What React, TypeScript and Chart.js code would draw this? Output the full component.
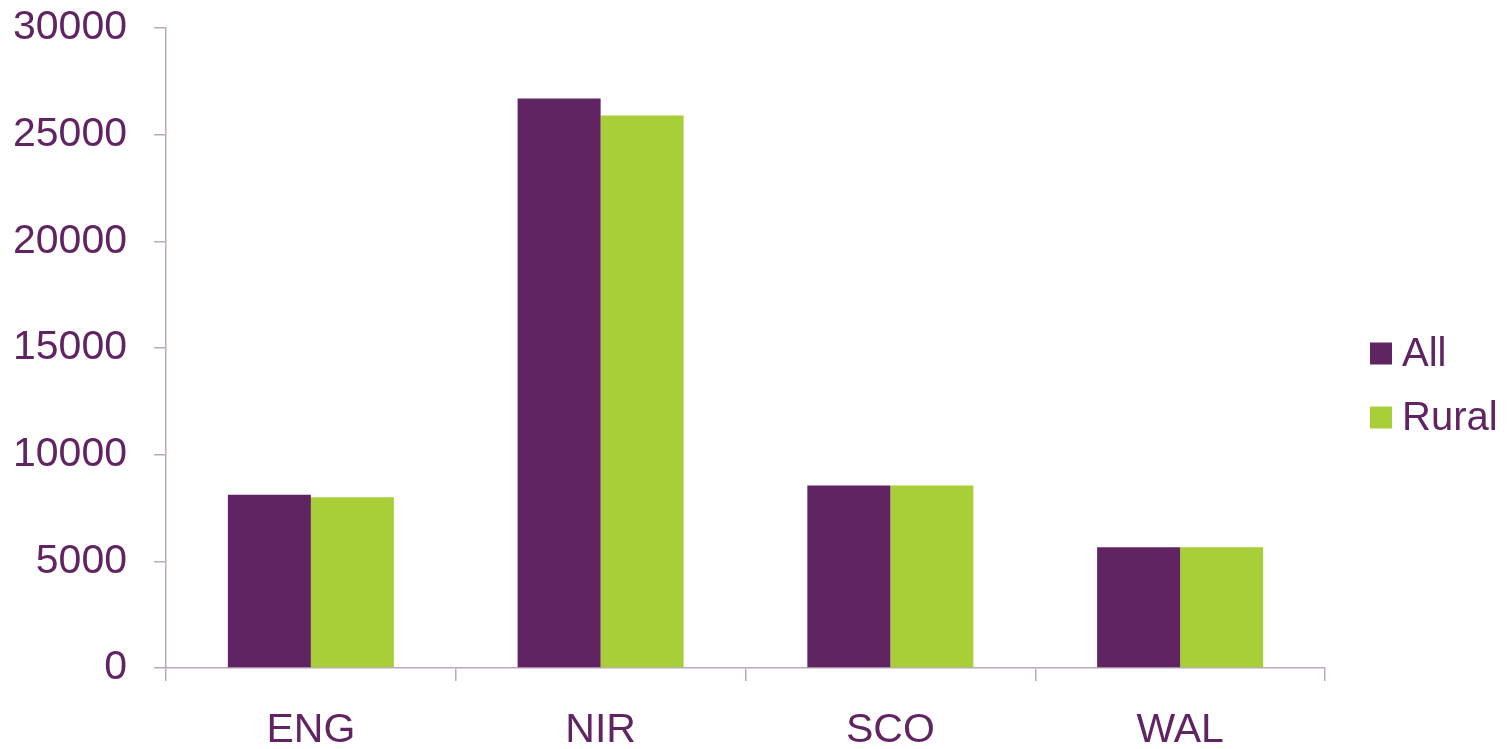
import React, { useEffect, useRef } from "react";
import { Chart, registerables } from "chart.js";

Chart.register(...registerables);

const regions = ["ENG", "NIR", "SCO", "WAL"];
const allValues = [8120, 26700, 8560, 5660];
const ruralValues = [8000, 25900, 8560, 5660];
const seriesNames = ["All", "Rural"];
const yTicks = [0, 5000, 10000, 15000, 20000, 25000, 30000];

const PURPLE = "#612463";
const GREEN = "#a9cf38";
const TEXT = "#612463";
const AXIS = "#bba9bb";
const FONT = "'Liberation Sans', Arial, sans-serif";

// Legend drawn to the right of the plot: square swatch + label per dataset.
const sideLegend = {
  id: "sideLegend",
  afterDraw(chart: any) {
    const { ctx, chartArea } = chart;
    const x = chartArea.right + 45;
    const box = 22;
    const rowGap = 64;
    const startY = chart.height / 2 - 21;
    ctx.save();
    ctx.font = `40px ${FONT}`;
    ctx.textBaseline = "middle";
    ctx.textAlign = "left";
    chart.data.datasets.forEach((ds: any, i: number) => {
      const cy = startY + i * rowGap;
      ctx.fillStyle = ds.backgroundColor;
      ctx.fillRect(x, cy - box / 2, box, box);
      ctx.fillStyle = TEXT;
      ctx.fillText(ds.label, x + box + 10, cy + 1);
    });
    ctx.restore();
  },
};

export default function App() {
  const canvasRef = useRef<HTMLCanvasElement | null>(null);

  useEffect(() => {
    if (!canvasRef.current) return;
    const chart = new Chart(canvasRef.current, {
      type: "bar",
      data: {
        labels: regions,
        datasets: [
          {
            label: seriesNames[0],
            data: allValues,
            backgroundColor: PURPLE,
            borderWidth: 0,
            categoryPercentage: 0.573,
            barPercentage: 1.0,
          },
          {
            label: seriesNames[1],
            data: ruralValues,
            backgroundColor: GREEN,
            borderWidth: 0,
            categoryPercentage: 0.573,
            barPercentage: 1.0,
          },
        ],
      },
      options: {
        animation: false,
        responsive: false,
        maintainAspectRatio: false,
        layout: { padding: { top: 28, right: 185, bottom: 0, left: 0 } },
        plugins: {
          legend: { display: false },
          tooltip: { enabled: false },
        },
        scales: {
          x: {
            grid: {
              display: true,
              drawOnChartArea: false,
              drawTicks: true,
              tickLength: 13,
              offset: true,
              color: AXIS,
              lineWidth: 1.5,
            },
            border: { display: true, color: AXIS, width: 1.5 },
            ticks: {
              color: TEXT,
              font: { family: FONT, size: 41 },
              padding: 25,
              maxRotation: 0,
            },
            afterFit(scale: any) {
              scale.height = 81;
              scale.paddingLeft = 0;
              scale.paddingRight = 0;
            },
          },
          y: {
            min: 0,
            max: 30000,
            afterBuildTicks(scale: any) {
              scale.ticks = yTicks.map((v) => ({ value: v }));
            },
            grid: {
              display: true,
              drawOnChartArea: false,
              drawTicks: true,
              tickLength: 12,
              color: AXIS,
              lineWidth: 1.5,
            },
            border: { display: true, color: AXIS, width: 1.5 },
            ticks: {
              color: TEXT,
              font: { family: FONT, size: 41 },
              padding: 27,
              callback: (v: any) => String(v),
            },
            afterFit(scale: any) {
              scale.width = 166;
              scale.paddingTop = 0;
              scale.paddingBottom = 0;
            },
          },
        },
      },
      plugins: [sideLegend],
    });
    return () => chart.destroy();
  }, []);

  return (
    <div style={{ position: "absolute", left: 0, top: 0, width: 1510, height: 749, background: "#fff" }}>
      <canvas ref={canvasRef} width={1510} height={749} style={{ display: "block" }} />
    </div>
  );
}
